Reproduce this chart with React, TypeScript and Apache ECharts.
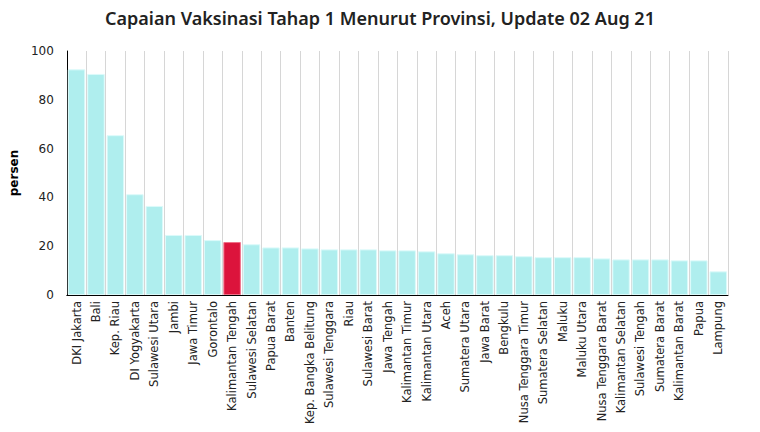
import React, { useEffect, useRef } from "react";
import * as echarts from "echarts";

const categories = [
  "DKI Jakarta", "Bali", "Kep. Riau", "DI Yogyakarta", "Sulawesi Utara", "Jambi", "Jawa Timur", "Gorontalo",
  "Kalimantan Tengah", "Sulawesi Selatan", "Papua Barat", "Banten", "Kep. Bangka Belitung", "Sulawesi Tenggara",
  "Riau", "Sulawesi Barat", "Jawa Tengah", "Kalimantan Timur", "Kalimantan Utara", "Aceh", "Sumatera Utara",
  "Jawa Barat", "Bengkulu", "Nusa Tenggara Timur", "Sumatera Selatan", "Maluku", "Maluku Utara",
  "Nusa Tenggara Barat", "Kalimantan Selatan", "Sulawesi Tengah", "Sumatera Barat", "Kalimantan Barat", "Papua", "Lampung",
];

const values = [
  92.5, 90.6, 65.5, 41.3, 36.5, 24.6, 24.6, 22.5,
  21.7, 20.8, 19.5, 19.5, 19.1, 18.7,
  18.7, 18.7, 18.3, 18.3, 17.9, 17.1, 16.7,
  16.3, 16.3, 15.9, 15.5, 15.5, 15.5,
  15.0, 14.6, 14.6, 14.6, 14.2, 14.2, 9.7,
];

const highlighted = "Kalimantan Tengah";
const yTicks = [0, 20, 40, 60, 80, 100];

export default function App() {
  const ref = useRef<HTMLDivElement>(null);
  useEffect(() => {
    if (!ref.current) return;
    const chart = echarts.init(ref.current, undefined, { renderer: "svg" });
    chart.setOption({
      animation: false,
      title: {
        text: "Capaian Vaksinasi Tahap 1 Menurut Provinsi, Update 02 Aug 21",
        left: "center",
        top: 4,
        textStyle: { fontFamily: "Noto Sans", fontSize: 18, fontWeight: 600, color: "#222" },
      },
      grid: { left: 66, right: 32, top: 51, bottom: 137 },
      xAxis: {
        type: "category",
        data: categories,
        boundaryGap: true,
        axisLine: { lineStyle: { color: "#000", width: 1 } },
        axisTick: { alignWithLabel: true, length: 5, lineStyle: { color: "#000" } },
        axisLabel: {
          rotate: 90,
          interval: 0,
          margin: 6,
          fontFamily: "DejaVu Sans",
          fontSize: 11.5,
          color: "#222",
        },
        splitLine: { show: true, interval: 0, lineStyle: { color: "#d6d6d6", width: 1 } },
      },
      yAxis: {
        type: "value",
        min: yTicks[0],
        max: yTicks[yTicks.length - 1],
        interval: 20,
        name: "persen",
        nameLocation: "middle",
        nameGap: 46,
        nameRotate: 90,
        nameTextStyle: { fontFamily: "DejaVu Sans", fontSize: 12, fontWeight: "bold", color: "#000" },
        axisLine: { show: true, lineStyle: { color: "#000", width: 1 } },
        axisTick: { show: false },
        axisLabel: { fontFamily: "DejaVu Sans", fontSize: 12, color: "#222", margin: 13 },
        splitLine: { show: false },
      },
      series: [
        {
          type: "bar",
          data: categories.map((c, i) => ({
            value: values[i],
            itemStyle:
              c === highlighted
                ? { color: "#dc143c", borderColor: "#f07088", borderWidth: 1 }
                : { color: "#afeeee", borderColor: "#dcfafa", borderWidth: 1 },
          })),
          barCategoryGap: "10%",
        },
      ],
    });
    return () => chart.dispose();
  }, []);
  return <div ref={ref} style={{ width: 760, height: 432, position: "absolute", left: 0, top: 0 }} />;
}
